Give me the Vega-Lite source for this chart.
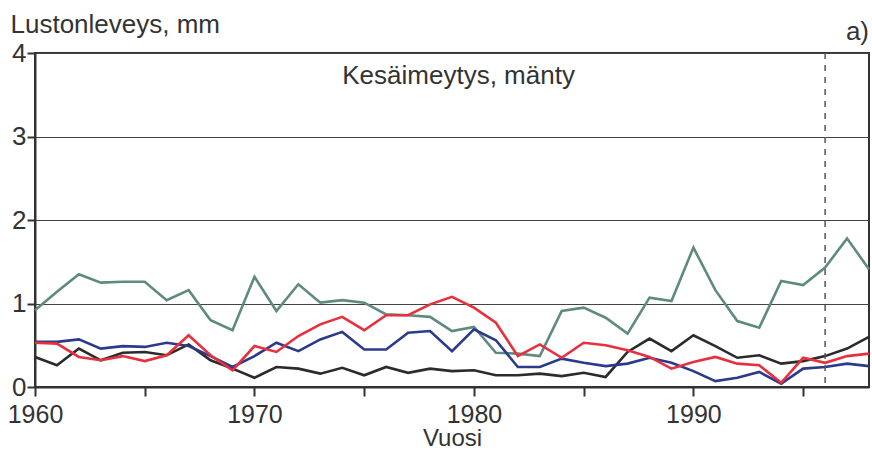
{
  "$schema": "https://vega.github.io/schema/vega-lite/v6.json",
  "width": 834,
  "height": 334,
  "autosize": {"type": "none"},
  "padding": {"left": 35, "top": 53, "right": 3, "bottom": 66},
  "background": "white",
  "config": {
    "font": "Liberation Sans",
    "view": {"stroke": "#333333", "strokeWidth": 2},
    "axis": {"labelFont": "Liberation Sans", "titleFont": "Liberation Sans", "labelColor": "#333", "titleColor": "#333", "titleFontWeight": "normal"}
  },
  "datasets": {
    "rows": [
      {"year":1960,"teal":0.92,"black":0.36,"blue":0.54,"red":0.53},
      {"year":1961,"teal":1.14,"black":0.26,"blue":0.54,"red":0.52},
      {"year":1962,"teal":1.35,"black":0.46,"blue":0.57,"red":0.36},
      {"year":1963,"teal":1.25,"black":0.32,"blue":0.46,"red":0.32},
      {"year":1964,"teal":1.26,"black":0.41,"blue":0.49,"red":0.37},
      {"year":1965,"teal":1.26,"black":0.42,"blue":0.48,"red":0.31},
      {"year":1966,"teal":1.04,"black":0.38,"blue":0.53,"red":0.38},
      {"year":1967,"teal":1.16,"black":0.51,"blue":0.49,"red":0.62},
      {"year":1968,"teal":0.80,"black":0.32,"blue":0.37,"red":0.38},
      {"year":1969,"teal":0.68,"black":0.22,"blue":0.24,"red":0.20},
      {"year":1970,"teal":1.32,"black":0.11,"blue":0.37,"red":0.49},
      {"year":1971,"teal":0.91,"black":0.24,"blue":0.53,"red":0.42},
      {"year":1972,"teal":1.23,"black":0.22,"blue":0.43,"red":0.61},
      {"year":1973,"teal":1.01,"black":0.16,"blue":0.57,"red":0.75},
      {"year":1974,"teal":1.04,"black":0.23,"blue":0.66,"red":0.84},
      {"year":1975,"teal":1.01,"black":0.14,"blue":0.45,"red":0.68},
      {"year":1976,"teal":0.87,"black":0.24,"blue":0.45,"red":0.86},
      {"year":1977,"teal":0.86,"black":0.17,"blue":0.65,"red":0.86},
      {"year":1978,"teal":0.84,"black":0.22,"blue":0.67,"red":0.99},
      {"year":1979,"teal":0.67,"black":0.19,"blue":0.43,"red":1.08},
      {"year":1980,"teal":0.72,"black":0.20,"blue":0.69,"red":0.95},
      {"year":1981,"teal":0.41,"black":0.14,"blue":0.56,"red":0.77},
      {"year":1982,"teal":0.40,"black":0.14,"blue":0.24,"red":0.37},
      {"year":1983,"teal":0.37,"black":0.16,"blue":0.24,"red":0.51},
      {"year":1984,"teal":0.91,"black":0.13,"blue":0.34,"red":0.35},
      {"year":1985,"teal":0.95,"black":0.17,"blue":0.29,"red":0.53},
      {"year":1986,"teal":0.83,"black":0.12,"blue":0.25,"red":0.50},
      {"year":1987,"teal":0.64,"black":0.42,"blue":0.28,"red":0.44},
      {"year":1988,"teal":1.07,"black":0.58,"blue":0.35,"red":0.36},
      {"year":1989,"teal":1.03,"black":0.43,"blue":0.29,"red":0.22},
      {"year":1990,"teal":1.67,"black":0.62,"blue":0.19,"red":0.30},
      {"year":1991,"teal":1.16,"black":0.49,"blue":0.07,"red":0.36},
      {"year":1992,"teal":0.79,"black":0.35,"blue":0.11,"red":0.28},
      {"year":1993,"teal":0.71,"black":0.38,"blue":0.18,"red":0.26},
      {"year":1994,"teal":1.27,"black":0.28,"blue":0.04,"red":0.05},
      {"year":1995,"teal":1.22,"black":0.31,"blue":0.22,"red":0.35},
      {"year":1996,"teal":1.43,"black":0.37,"blue":0.24,"red":0.29},
      {"year":1997,"teal":1.78,"black":0.46,"blue":0.28,"red":0.37},
      {"year":1998,"teal":1.41,"black":0.60,"blue":0.25,"red":0.40}
    ]
  },
  "layer": [
    {
      "data": {"name": "rows"},
      "transform": [{"fold": ["teal", "black", "blue", "red"], "as": ["series", "value"]}],
      "mark": {"type": "line", "strokeWidth": 2.6, "strokeJoin": "miter"},
      "encoding": {
        "x": {
          "field": "year", "type": "quantitative",
          "scale": {"domain": [1960, 1998], "nice": false, "zero": false},
          "axis": {
            "title": "Vuosi", "titleFontSize": 24, "titlePadding": -1,
            "values": [1960,1965,1970,1975,1980,1985,1990,1995],
            "labelExpr": "datum.value % 10 === 0 ? datum.value : ''",
            "labelFontSize": 25, "labelPadding": 6, "labelFlush": false,
            "tickSize": 9, "tickWidth": 2, "tickColor": "#333",
            "domainColor": "#333", "domainWidth": 2, "grid": false
          }
        },
        "y": {
          "field": "value", "type": "quantitative",
          "scale": {"domain": [0, 4], "nice": false},
          "axis": {
            "title": "Lustonleveys, mm", "titleFontSize": 26, "titleAngle": 0,
            "titleAlign": "left", "titleBaseline": "alphabetic", "titleX": -25, "titleY": -21,
            "values": [0,1,2,3,4], "format": "d", "labelFontSize": 26, "labelPadding": 1,
            "tickSize": 8, "tickWidth": 2, "tickColor": "#333",
            "domainColor": "#333", "domainWidth": 2,
            "grid": true, "gridColor": "#444", "gridWidth": 1
          }
        },
        "color": {
          "field": "series", "type": "nominal", "legend": null,
          "scale": {"domain": ["teal", "black", "blue", "red"], "range": ["#5f8a80", "#2b2b2b", "#2c3a8c", "#e8303c"]}
        }
      }
    },
    {
      "data": {"values": [{}]},
      "mark": {"type": "rule", "strokeDash": [6, 6], "color": "#555", "strokeWidth": 1.5},
      "encoding": {"x": {"datum": 1996}}
    },
    {
      "data": {"values": [{}]},
      "mark": {"type": "text", "fontSize": 26, "color": "#333", "align": "center", "baseline": "alphabetic", "font": "Liberation Sans"},
      "encoding": {"x": {"datum": 1979.3}, "y": {"datum": 3.63}, "text": {"value": "Kesäimeytys, mänty"}}
    },
    {
      "data": {"values": [{}]},
      "mark": {"type": "text", "fontSize": 26, "color": "#333", "align": "right", "baseline": "alphabetic", "dy": -13, "font": "Liberation Sans"},
      "encoding": {"x": {"datum": 1998}, "y": {"datum": 4}, "text": {"value": "a)"}}
    }
  ]
}
